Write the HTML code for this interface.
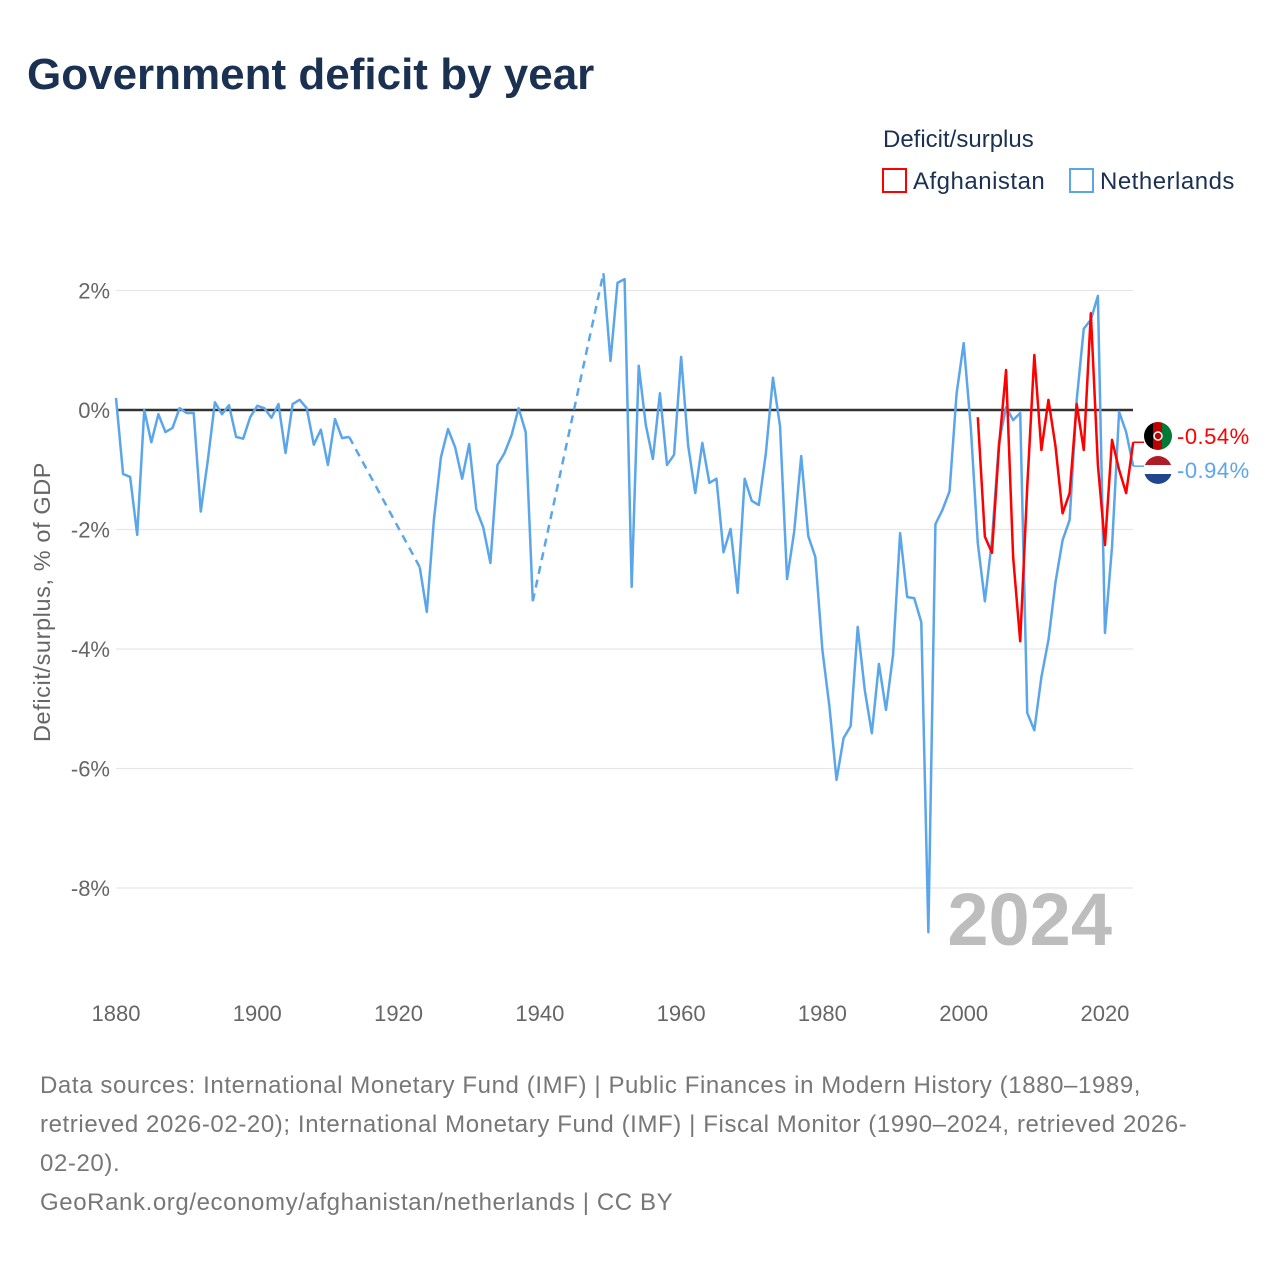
<!DOCTYPE html>
<html><head><meta charset="utf-8">
<style>
body{margin:0;background:#fff;width:1280px;height:1280px;overflow:hidden;font-family:"Liberation Sans",sans-serif;}
#wrap{position:relative;width:1280px;height:1280px;}
.title{position:absolute;left:27px;top:50px;font-size:44px;font-weight:bold;color:#1b3152;margin:0;}
.foot{position:absolute;left:40px;top:1066px;width:1195px;font-size:24px;line-height:39px;color:#777;letter-spacing:0.6px;word-break:break-word;}
</style></head><body>
<div id="wrap">
<h1 class="title">Government deficit by year</h1>
<svg id="chart" width="1280" height="1280" style="position:absolute;left:0;top:0"></svg>
<div class="foot">Data sources: International Monetary Fund (IMF) | Public Finances in Modern History (1880–1989, retrieved 2026-02-20); International Monetary Fund (IMF) | Fiscal Monitor (1990–2024, retrieved 2026-<br>02-20).<br><span>GeoRank.org/economy/afghanistan/netherlands | CC BY</span></div>
</div>
<script>
const nlStartYear = 1880;
const nlValues = [0.2,-1.07,-1.12,-2.09,0.0,-0.54,-0.07,-0.37,-0.3,0.03,-0.05,-0.05,-1.7,-0.84,0.13,-0.07,0.08,-0.45,-0.48,-0.12,
0.07,0.03,-0.13,0.1,-0.72,0.1,0.17,0.03,-0.58,-0.33,-0.92,-0.15,-0.47,-0.45,
null,null,null,null,null,null,null,null,null,
-2.63,-3.38,-1.84,-0.79,-0.32,-0.62,-1.15,-0.57,-1.66,-1.97,-2.56,-0.92,-0.72,-0.42,0.03,-0.37,-3.2,
null,null,null,null,null,null,null,null,null,
2.29,0.82,2.13,2.19,-2.96,0.74,-0.25,-0.82,0.28,-0.92,-0.75,
0.89,-0.6,-1.39,-0.55,-1.22,-1.15,-2.38,-1.99,-3.06,-1.15,-1.52,-1.59,-0.72,0.54,-0.27,-2.83,-2.04,-0.77,-2.11,-2.46,
-4.02,-4.97,-6.19,-5.49,-5.29,-3.63,-4.69,-5.41,-4.25,-5.02,-4.1,-2.06,-3.13,-3.15,-3.55,-8.74,-1.91,-1.67,-1.36,0.28,
1.12,-0.28,-2.23,-3.2,-2.18,-0.54,0.05,-0.17,-0.05,-5.07,-5.36,-4.47,-3.85,-2.88,-2.18,-1.84,0.17,1.36,1.51,1.91,
-3.73,-2.29,-0.03,-0.37,-0.94];
const afStartYear = 2002;
const afValues = [-0.12,-2.12,-2.39,-0.61,0.67,-2.46,-3.87,-1.28,0.92,-0.67,0.17,-0.61,-1.73,-1.39,0.1,-0.67,1.62,-0.92,-2.26,-0.5,-1.0,-1.39,-0.54];
const yTicks = [2,0,-2,-4,-6,-8];
const xTicks = [1880,1900,1920,1940,1960,1980,2000,2020];

const svg = document.getElementById('chart');
const NS = 'http://www.w3.org/2000/svg';
const X = y => 116 + (y - 1880) * 7.064;
const Y = v => 410 - v * 59.75;
function mk(tag, attrs, parent){const e=document.createElementNS(NS,tag);for(const k in attrs)e.setAttribute(k,attrs[k]);(parent||svg).appendChild(e);return e;}

yTicks.forEach(t=>{
  const g = mk('line',{x1:116,x2:1133,y1:Y(t),y2:Y(t),stroke:t===0?'#333':'#e6e6e6','stroke-width':t===0?2.5:1.2});
  
  
  const tx = mk('text',{x:110,y:Y(t)+8,'text-anchor':'end','font-size':22,fill:'#666'});
  tx.textContent = t+'%';
  
  
});
xTicks.forEach(t=>{
  const tx = mk('text',{x:X(t),y:1021,'text-anchor':'middle','font-size':22,fill:'#666'});
  tx.textContent = t;
  
  
});
const yt = mk('text',{x:0,y:0,transform:'translate(50,602) rotate(-90)','text-anchor':'middle','font-size':23.5,fill:'#666','letter-spacing':'0.6'});
yt.textContent='Deficit/surplus, % of GDP';



const yr = mk('text',{x:1112,y:945,'text-anchor':'end','font-size':74,'font-weight':'bold',fill:'#bdbdbd'});
yr.textContent='2024';



function drawSeries(start, vals, color, name){
  let solid='', dash='', lastIdx=-1;
  vals.forEach((v,i)=>{
    if(v===null) return;
    const px=X(start+i), py=Y(v);
    if(lastIdx===i-1 && lastIdx>=0) solid+=` L${px},${py}`;
    else { solid+=` M${px},${py}`; if(lastIdx>=0) dash+=` M${X(start+lastIdx)},${Y(vals[lastIdx])} L${px},${py}`; }
    lastIdx=i;
  });
  const p = mk('path',{d:solid,fill:'none',stroke:color,'stroke-width':2.5,'stroke-linejoin':'round'});
  
  
  if(dash){
    const d = mk('path',{d:dash,fill:'none',stroke:color,'stroke-width':2.5,'stroke-dasharray':'8,6'});
    
    
  }
}
drawSeries(nlStartYear, nlValues, '#5ba6ea', 'netherlands');
drawSeries(afStartYear, afValues, '#ff0000', 'afghanistan');

const afLast = afValues[afValues.length-1], nlLast = nlValues[nlValues.length-1];
const c1 = mk('line',{x1:X(2024),x2:1144,y1:Y(afLast),y2:Y(afLast),stroke:'#ff0000','stroke-width':1.5});


const c2 = mk('line',{x1:X(2024),x2:1144,y1:Y(nlLast),y2:Y(nlLast),stroke:'#5ba6ea','stroke-width':1.5});


const af = mk('g',{});


mk('defs',{},af).innerHTML='<clipPath id="cA"><circle cx="1158" cy="436" r="14"/></clipPath><clipPath id="cN"><circle cx="1158" cy="470" r="14"/></clipPath>';
const ga = mk('g',{'clip-path':'url(#cA)'},af);
mk('rect',{x:1144,y:422,width:10,height:28,fill:'#000'},ga);
mk('rect',{x:1153,y:422,width:10,height:28,fill:'#be0000'},ga);
mk('rect',{x:1162,y:422,width:10,height:28,fill:'#007a36'},ga);
mk('circle',{cx:1158,cy:436,r:4,fill:'none',stroke:'#fff','stroke-width':1.5},ga);
const nl = mk('g',{'clip-path':'url(#cN)'});


mk('rect',{x:1144,y:456,width:28,height:10,fill:'#ae1c28'},nl);
mk('rect',{x:1144,y:465,width:28,height:10,fill:'#fff'},nl);
mk('rect',{x:1144,y:474,width:28,height:10,fill:'#21468b'},nl);
const l1 = mk('text',{x:1177,y:444,'font-size':22,fill:'#ff0000','letter-spacing':'0.5'});
l1.textContent = afLast.toFixed(2)+'%';


const l2 = mk('text',{x:1177,y:478,'font-size':22,fill:'#5ba6ea','letter-spacing':'0.5'});
l2.textContent = nlLast.toFixed(2)+'%';



const lt = mk('text',{x:883,y:147,'font-size':24,fill:'#1b3152'});
lt.textContent='Deficit/surplus';


const lr1 = mk('rect',{x:883,y:169,width:23,height:23,fill:'#fff',stroke:'#ff0000','stroke-width':2});


const le1 = mk('text',{x:913,y:189,'font-size':24,fill:'#1b3152','letter-spacing':'0.5'});
le1.textContent='Afghanistan';


const lr2 = mk('rect',{x:1070,y:169,width:23,height:23,fill:'#fff',stroke:'#5ba6ea','stroke-width':2});


const le2 = mk('text',{x:1100,y:189,'font-size':24,fill:'#1b3152','letter-spacing':'0.5'});
le2.textContent='Netherlands';


</script>
</body></html>
